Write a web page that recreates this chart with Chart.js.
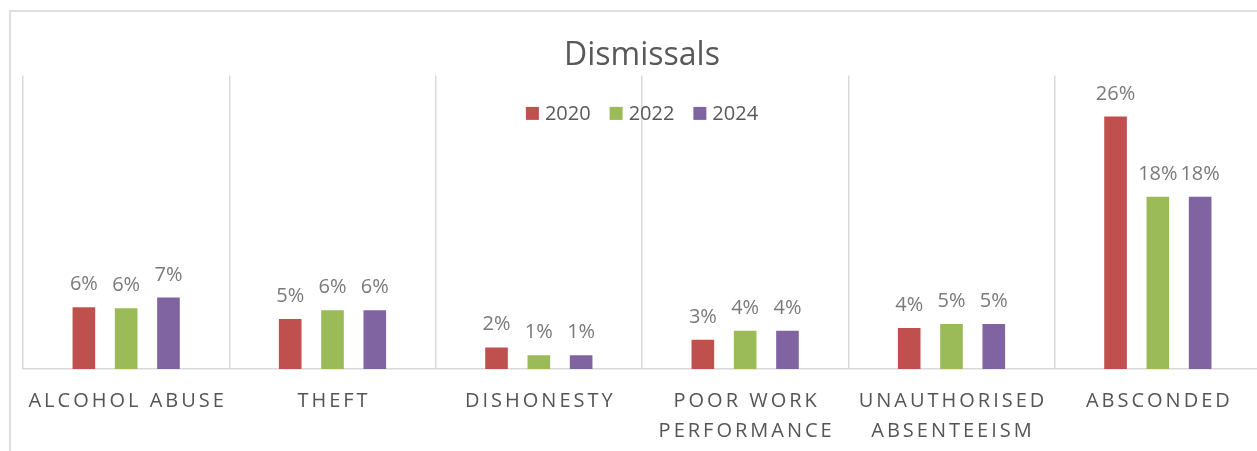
<!DOCTYPE html>
<html>
<head>
<meta charset="utf-8">
<title>Dismissals</title>
<script src="https://cdn.jsdelivr.net/npm/chart.js@4.4.1/dist/chart.umd.min.js"></script>
<style>
    html, body { margin: 0; padding: 0; background: #fff; overflow: hidden; }
    .frame {
        position: absolute; left: 9px; top: 10px; right: -10px; bottom: -10px;
        border-left: 2px solid #dedede; border-top: 2px solid #dedede;
    }
    .chart-container { position: absolute; left: 0; top: 0; width: 1262px; height: 451px; }
</style>
</head>
<body>
<div class="frame"></div>
<div class="chart-container">
    <canvas id="dismissalsChart" width="1262" height="451"></canvas>
</div>
<script>
// Chart data
const categories = [
    ['ALCOHOL ABUSE'],
    ['THEFT'],
    ['DISHONESTY'],
    ['POOR WORK', 'PERFORMANCE'],
    ['UNAUTHORISED', 'ABSENTEEISM'],
    ['ABSCONDED']
];
const seriesNames = ['2020', '2022', '2024'];
const dismissals2020 = [0.063, 0.051, 0.022, 0.030, 0.042, 0.258];
const dismissals2022 = [0.062, 0.060, 0.014, 0.039, 0.046, 0.176];
const dismissals2024 = [0.073, 0.060, 0.014, 0.039, 0.046, 0.176];
const yMax = 0.30;

const colors = ['#C0504D', '#9BBB59', '#8064A2'];
const fontFamily = '"Open Sans", "Noto Sans", sans-serif';

// Percentage labels above each bar
const dataLabels = {
    id: 'dataLabels',
    afterDatasetsDraw(chart) {
        const ctx = chart.ctx;
        ctx.save();
        ctx.font = '20px ' + fontFamily;
        ctx.fillStyle = '#7a7a7a';
        ctx.textAlign = 'center';
        ctx.textBaseline = 'alphabetic';
        chart.data.datasets.forEach((ds, i) => {
            chart.getDatasetMeta(i).data.forEach((bar, j) => {
                ctx.fillText(Math.round(ds.data[j] * 100) + '%', bar.x, bar.y - 17);
            });
        });
        ctx.restore();
    }
};

// Letter-spaced category labels under the axis
const categoryLabels = {
    id: 'categoryLabels',
    afterDraw(chart) {
        const ctx = chart.ctx;
        const xScale = chart.scales.x;
        const base = chart.chartArea.bottom;
        ctx.save();
        ctx.font = '20px ' + fontFamily;
        ctx.fillStyle = '#555555';
        ctx.textAlign = 'center';
        ctx.textBaseline = 'alphabetic';
        ctx.letterSpacing = '3px';
        categories.forEach((lines, i) => {
            const x = xScale.getPixelForValue(i) + 1.5;
            lines.forEach((line, k) => {
                ctx.fillText(line, x, base + 38 + k * 30);
            });
        });
        ctx.restore();
    }
};

// Legend drawn inside the plot area, centred near the top
const insideLegend = {
    id: 'insideLegend',
    afterDraw(chart) {
        const ctx = chart.ctx;
        const area = chart.chartArea;
        const box = 13, gap = 6, spacing = 19;
        ctx.save();
        ctx.font = '20px ' + fontFamily;
        ctx.textBaseline = 'middle';
        ctx.textAlign = 'left';
        const items = chart.data.datasets.map(ds => ({
            text: ds.label,
            color: ds.backgroundColor,
            width: box + gap + ctx.measureText(ds.label).width
        }));
        let total = items.reduce((s, it) => s + it.width, 0) + spacing * (items.length - 1);
        let x = (area.left + area.right) / 2 - total / 2;
        const y = area.top + 38;
        items.forEach(it => {
            ctx.fillStyle = it.color;
            ctx.fillRect(x, y - box / 2, box, box);
            ctx.fillStyle = '#595959';
            ctx.fillText(it.text, x + box + gap, y + 1);
            x += it.width + spacing;
        });
        ctx.restore();
    }
};

const ctx = document.getElementById('dismissalsChart').getContext('2d');
new Chart(ctx, {
    type: 'bar',
    data: {
        labels: categories,
        datasets: [
            { label: seriesNames[0], data: dismissals2020, backgroundColor: colors[0] },
            { label: seriesNames[1], data: dismissals2022, backgroundColor: colors[1] },
            { label: seriesNames[2], data: dismissals2024, backgroundColor: colors[2] }
        ]
    },
    options: {
        responsive: false,
        animation: false,
        layout: {
            padding: { left: 23, right: 1, top: 0, bottom: 82 }
        },
        datasets: {
            bar: { categoryPercentage: 0.615, barPercentage: 0.535, borderWidth: 0 }
        },
        scales: {
            x: {
                grid: { color: '#d9d9d9', lineWidth: 1.5, drawTicks: false, offset: true },
                border: { color: '#d9d9d9', width: 1.5 },
                ticks: { display: false }
            },
            y: {
                display: false,
                min: 0,
                max: yMax
            }
        },
        plugins: {
            legend: { display: false },
            tooltip: { enabled: false },
            title: {
                display: true,
                text: 'Dismissals',
                color: '#595959',
                font: { family: fontFamily, size: 32, weight: 'normal' },
                padding: { top: 37, bottom: 0 }
            }
        }
    },
    plugins: [dataLabels, categoryLabels, insideLegend]
});
</script>
</body>
</html>
